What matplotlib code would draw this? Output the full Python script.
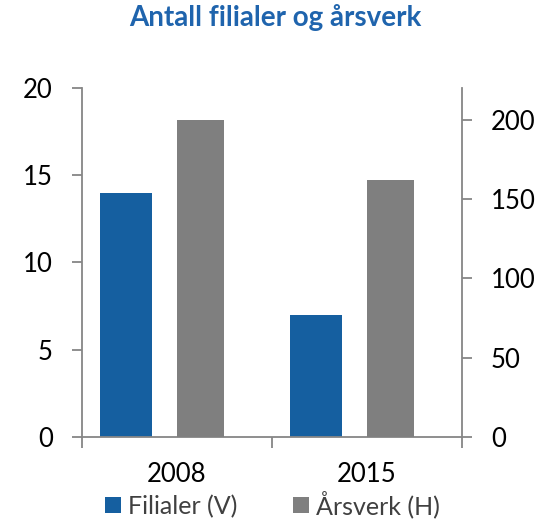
import numpy as np
import matplotlib.pyplot as plt
from matplotlib.ticker import FixedLocator, NullFormatter

plt.rcParams['font.family'] = ['Lato', 'DejaVu Sans']

years = ['2008', '2015']
filialer = [14, 7]
aarsverk = [200, 162]

blue = '#155fa0'
grey = '#7f7f7f'
axis_col = '#868686'

fig = plt.figure(figsize=(5.45, 5.2), dpi=100)
ax = fig.add_axes([0.1505, 0.1596, 0.697, 0.6712])
ax2 = ax.twinx()

x = np.arange(len(years))
b1 = ax.bar(x - 0.268, filialer, width=0.272, color=blue, label='Filialer (V)')
b2 = ax2.bar(x + 0.124, aarsverk, width=0.25, color=grey, label='Årsverk (H)')

ax.set_xlim(-0.5, 1.5)
ax.set_ylim(0, 20)
ax2.set_ylim(0, 220)
ax.set_yticks([0, 5, 10, 15, 20])
ax2.set_yticks([0, 50, 100, 150, 200])
ax.set_xticks(x)
ax.set_xticklabels(years)
ax.xaxis.set_minor_locator(FixedLocator([-0.5, 0.5, 1.5]))
ax.xaxis.set_minor_formatter(NullFormatter())

for a in (ax, ax2):
    a.spines['top'].set_visible(False)
    for s in ('left', 'right', 'bottom'):
        a.spines[s].set_color(axis_col)
        a.spines[s].set_linewidth(1.3)
    a.tick_params(labelsize=18.5, colors='black', width=1.3)
    a.tick_params(axis='y', color=axis_col, length=7, pad=14)
ax.spines['right'].set_visible(False)
ax2.spines['left'].set_visible(False)
ax2.spines['bottom'].set_visible(False)
ax.tick_params(axis='x', which='major', length=0, pad=18)
ax.tick_params(axis='x', which='minor', length=8, color=axis_col, width=1.3)

fig.suptitle('Antall filialer og årsverk', x=0.505, y=0.992, fontsize=20,
             fontweight='bold', color='#1f64ad')

fig.legend(handles=[b1, b2], loc='lower center', bbox_to_anchor=(0.5, 0.004),
           ncol=2, frameon=False, fontsize=18, handlelength=0.65, handleheight=0.65,
           handletextpad=0.3, columnspacing=2.2, labelcolor='#404040',
           borderpad=0, borderaxespad=0)

fig.savefig('out.png', dpi=100)
